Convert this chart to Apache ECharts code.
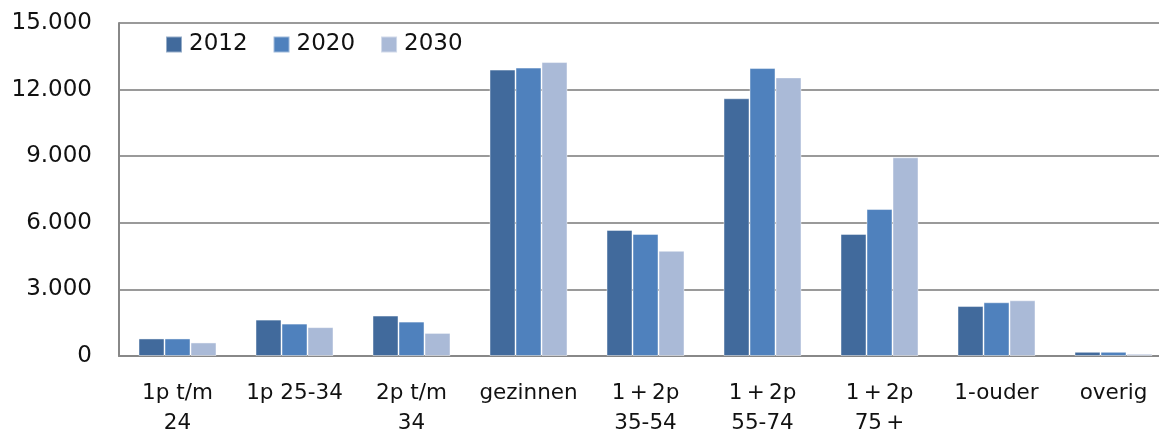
<!DOCTYPE html>
<html>
<head>
<meta charset="utf-8">
<title>Huishoudens naar type</title>
<script src="https://cdn.jsdelivr.net/npm/echarts@6/dist/echarts.min.js"></script>
<style>
  html, body { margin: 0; padding: 0; background: #fff; }
  #chart { width: 1159px; height: 433px; }
</style>
</head>
<body>
<div id="chart"></div>
<script>
// Household types on the category axis (thin spaces around the plus signs)
const categories = ['1p t/m\n24', '1p 25-34', '2p t/m\n34', 'gezinnen', '1\u2009+\u20092p\n35-54', '1\u2009+\u20092p\n55-74', '1\u2009+\u20092p\n75\u2009+', '1-ouder', 'overig'];

// Number of households per type and year
const values2012 = [790, 1640, 1820, 12900, 5680, 11610, 5500, 2250, 190];
const values2020 = [790, 1460, 1550, 12990, 5500, 12970, 6620, 2420, 190];
const values2030 = [610, 1300, 1040, 13240, 4740, 12550, 8950, 2510, 100];

const seriesNames = ['2012', '2020', '2030'];
const seriesColors = ['#416a9c', '#4f81bd', '#aabad7'];

// Y axis ticks
const yMin = 0;
const yMax = 15000;
const yStep = 3000;

const fontFamily = '"DejaVu Sans", sans-serif';

function dotThousands(v) {
  return String(v).replace(/\B(?=(\d{3})+(?!\d))/g, '.');
}

const chart = echarts.init(document.getElementById('chart'), null, { renderer: 'canvas' });

const dataSets = [values2012, values2020, values2030];

chart.setOption({
  animation: false,
  backgroundColor: '#ffffff',
  textStyle: { fontFamily: fontFamily },
  legend: {
    left: 160,
    top: 28,
    itemWidth: 16,
    itemHeight: 16,
    itemGap: 25,
    icon: 'rect',
    textStyle: { fontSize: 23, color: '#111', fontFamily: fontFamily, padding: [0, 0, 0, 2] },
    data: seriesNames
  },
  grid: {
    left: 119,
    top: 23,
    width: 1053,
    bottom: 77,
    containLabel: false,
    outerBoundsMode: 'none'
  },
  xAxis: {
    type: 'category',
    data: categories,
    axisLine: { show: true, lineStyle: { color: '#888', width: 2 } },
    axisTick: { show: false },
    axisLabel: {
      interval: 0,
      margin: 22,
      fontSize: 21.5,
      lineHeight: 30,
      color: '#111',
      fontFamily: fontFamily
    }
  },
  yAxis: {
    type: 'value',
    min: yMin,
    max: yMax,
    interval: yStep,
    axisLine: { show: true, lineStyle: { color: '#888', width: 2 } },
    axisTick: { show: false },
    splitLine: { show: true, lineStyle: { color: '#9a9a9a', width: 2 } },
    axisLabel: {
      margin: 27,
      fontSize: 23,
      color: '#111',
      fontFamily: fontFamily,
      formatter: dotThousands
    }
  },
  series: seriesNames.map((name, i) => ({
    name: name,
    type: 'bar',
    data: dataSets[i],
    barWidth: 26,
    barGap: '0%',
    itemStyle: {
      color: seriesColors[i],
      borderColor: 'rgba(255,255,255,0.45)',
      borderWidth: 1
    }
  }))
});
</script>
</body>
</html>
